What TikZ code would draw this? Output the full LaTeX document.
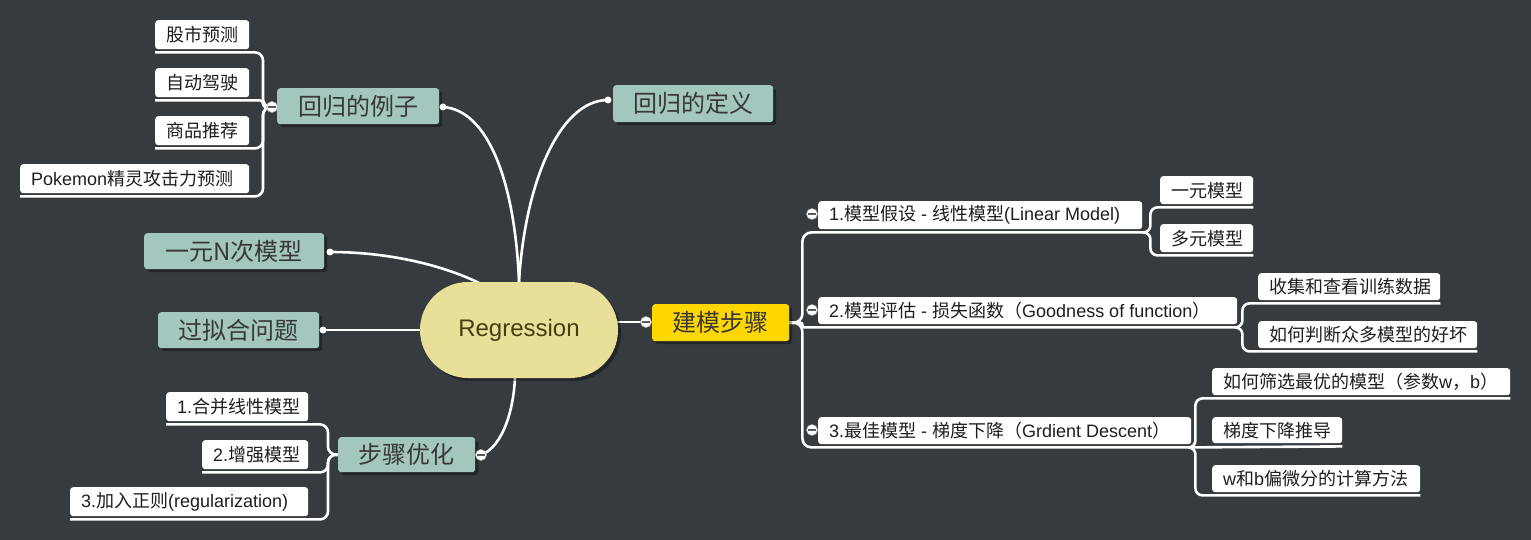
\documentclass[tikz,border=0pt]{standalone}
\usepackage{fontspec}
\setmainfont{Liberation Sans}
\newfontfamily\cjk{Noto Sans CJK SC}
\usetikzlibrary{shadows}
\newcommand\C[1]{{\cjk #1}}
\definecolor{bgc}{HTML}{363B3F}
\definecolor{topicc}{HTML}{A3C6BF}
\definecolor{topictext}{HTML}{383838}
\definecolor{regc}{HTML}{E8DF99}
\definecolor{regtext}{HTML}{4A3C12}
\definecolor{stepc}{HTML}{FFD700}
\definecolor{leaftext}{HTML}{1E1E1E}
\pgfdeclarelayer{bg}
\pgfsetlayers{bg,main}
\newcommand\topicnode[7][]{\node[topicbox,#1,minimum width={(#5)-(#3)},minimum height={(#6)-(#4)}] (#2) at (#3,#4) {#7};}
\newcommand\leafnode[6]{\node[leafbox,minimum width={(#4)-(#2)},minimum height={(#5)-(#3)}] (#1) at (#2,#3) {\makebox[\dimexpr#4pt-#2pt-22pt\relax][l]{#6}};}
\begin{document}
\begin{tikzpicture}[x=1pt,y=-1pt,
 conn/.style={draw=white, line width=2.6pt},
 topicbox/.style={fill=topicc, text=topictext, rounded corners=3pt, inner sep=0pt, anchor=north west,
   font=\cjk\fontsize{24}{28}\selectfont,
   drop shadow={shadow xshift=3pt, shadow yshift=-3pt, fill=black, opacity=0.35}},
 leafbox/.style={fill=white, text=leaftext, rounded corners=3pt, inner xsep=11pt, inner ysep=0pt, anchor=north west,
   font=\fontsize{18}{22}\selectfont},
 collapse/.style={circle, fill=white, draw=gray!60, line width=0.6pt, minimum size=11pt, inner sep=0pt,
   path picture={\draw[gray!70!black, line width=1.3pt] ([xshift=-3.8pt]path picture bounding box.center) -- ([xshift=3.8pt]path picture bounding box.center);}},
 jdot/.style={circle, fill=white, minimum size=7pt, inner sep=0pt},
]
\begin{pgfonlayer}{bg}
\fill[bgc] (0,0) rectangle (1531,540);
\end{pgfonlayer}
\useasboundingbox (0,0) rectangle (1531,540);

% central node
\node[fill=regc, text=regtext, rounded corners=48pt, minimum width=198pt, minimum height=96pt, inner sep=0pt,
  font=\fontsize{24}{28}\selectfont,
  drop shadow={shadow xshift=3pt, shadow yshift=-3pt, fill=black, opacity=0.35}] (reg) at (519,330) {Regression};

% main topics
\topicnode{ex}{277}{88}{439}{124}{回归的例子}
\topicnode{def}{613}{85}{773}{122}{回归的定义}
\topicnode{nth}{144}{233}{324}{269}{一元N次模型}
\topicnode{over}{158}{312}{319}{348}{过拟合问题}
\topicnode{opt}{338}{437}{475}{472}{步骤优化}
\topicnode[fill=stepc]{steps}{652}{304}{789}{341}{建模步骤}

% leaves
\leafnode{a1}{155}{20}{249}{49}{\C{股市预测}}
\leafnode{a2}{155}{68}{249}{97}{\C{自动驾驶}}
\leafnode{a3}{155}{116}{249}{145}{\C{商品推荐}}
\leafnode{a4}{20}{164}{249}{193}{Pokemon\C{精灵攻击力预测}}
\leafnode{o1}{166}{392}{308}{421}{1.\C{合并线性模型}}
\leafnode{o2}{202}{440}{308}{469}{2.\C{增强模型}}
\leafnode{o3}{70}{487}{308}{516}{3.\C{加入正则}(regularization)}
\leafnode{s1}{818}{201}{1142}{229}{1.\C{模型假设} - \C{线性模型}(Linear Model)}
\leafnode{s2}{818}{297}{1237}{324}{2.\C{模型评估} - \C{损失函数（}Goodness of function\C{）}}
\leafnode{s3}{818}{417}{1191}{444}{3.\C{最佳模型} - \C{梯度下降（}Grdient Descent\C{）}}
\leafnode{s1a}{1160}{176}{1253}{204}{\C{一元模型}}
\leafnode{s1b}{1160}{224}{1253}{252}{\C{多元模型}}
\leafnode{s2a}{1258}{273}{1440}{300}{\C{收集和查看训练数据}}
\leafnode{s2b}{1258}{321}{1477}{348}{\C{如何判断众多模型的好坏}}
\leafnode{s3a}{1212}{368}{1510}{395}{\C{如何筛选最优的模型（参数}w\C{，}b\C{）}}
\leafnode{s3b}{1212}{417}{1342}{443}{\C{梯度下降推导}}
\leafnode{s3c}{1212}{465}{1420}{492}{w\C{和}b\C{偏微分的计算方法}}

% markers
\node[collapse] (cex) at (272,107) {};
\node[collapse] (csteps) at (646,322) {};
\node[collapse] (copt) at (481,455) {};
\node[collapse] (cs1) at (812,214) {};
\node[collapse] (cs2) at (812,310) {};
\node[collapse] (cs3) at (812,430) {};
\node[jdot] (dex) at (443,107) {};
\node[jdot] (ddef) at (608,100) {};
\node[jdot] (dnth) at (330,252) {};
\node[jdot] (dover) at (323,330) {};

\begin{pgfonlayer}{bg}
% central connections
\draw[conn] (csteps.center) -- (reg.center |- csteps.center);
\draw[conn] (dover.center) -- (reg.center |- dover.center);
\draw[conn] (reg.north) .. controls +(-4,-100) and +(45,3) .. (dex.center);
\draw[conn] (reg.north) .. controls +(6,-100) and +(-48,0) .. (ddef.center);
\draw[conn] (dnth.center) .. controls +(72,0) and +(-34,-24) .. ([xshift=-18pt,yshift=-14pt]reg.north);
\draw[conn] (copt.center) .. controls +(22,-8) and +(0,35) .. ([xshift=-4pt,yshift=6pt]reg.south);
% steps children
\draw[conn, rounded corners=9pt] (steps.east) -- ++(13,0) |- ([yshift=-3pt]s1.south east);
\draw[conn, rounded corners=2pt] (steps.east) -- ++(13,0) |- ([yshift=-3pt]s2.south east);
\draw[conn, rounded corners=9pt] (steps.east) -- ++(13,0) |- ([yshift=-3pt]s3.south east);
\draw[conn, rounded corners=7pt] ([yshift=-3pt]s1.south east) -- ++(8,0) |- ([yshift=-3pt]s1a.south east);
\draw[conn, rounded corners=7pt] ([yshift=-3pt]s1.south east) -- ++(8,0) |- ([yshift=-3pt]s1b.south east);
\draw[conn, rounded corners=7pt] ([yshift=-3pt]s2.south east) -- ++(5,0) |- ([yshift=-3pt]s2a.south east);
\draw[conn, rounded corners=7pt] ([yshift=-3pt]s2.south east) -- ++(5,0) |- ([yshift=-3pt]s2b.south east);
\draw[conn, rounded corners=7pt] ([yshift=-3pt]s3.south east) -- ++(4,0) |- ([yshift=-3pt]s3a.south east);
\draw[conn] ([yshift=-3pt]s3.south east) -- ([yshift=-3pt]s3b.south east);
\draw[conn, rounded corners=7pt] ([yshift=-3pt]s3.south east) -- ++(4,0) |- ([yshift=-3pt]s3c.south east);
% example children
\draw[conn, rounded corners=8pt] (cex.center) -- ++(-9,0) |- ([yshift=-3pt]a1.south west);
\draw[conn, rounded corners=3pt] (cex.center) -- ++(-9,0) |- ([yshift=-3pt]a2.south west);
\draw[conn, rounded corners=8pt] (cex.center) -- ++(-9,0) |- ([yshift=-3pt]a3.south west);
\draw[conn, rounded corners=8pt] (cex.center) -- ++(-9,0) |- ([yshift=-3pt]a4.south west);
% optimisation children
\draw[conn, rounded corners=8pt] (opt.west) -- ++(-10,0) |- ([yshift=-3pt]o1.south west);
\draw[conn, rounded corners=8pt] (opt.west) -- ++(-10,0) |- ([yshift=-3pt]o2.south west);
\draw[conn, rounded corners=8pt] (opt.west) -- ++(-10,0) |- ([yshift=-3pt]o3.south west);
\end{pgfonlayer}
\end{tikzpicture}
\end{document}
